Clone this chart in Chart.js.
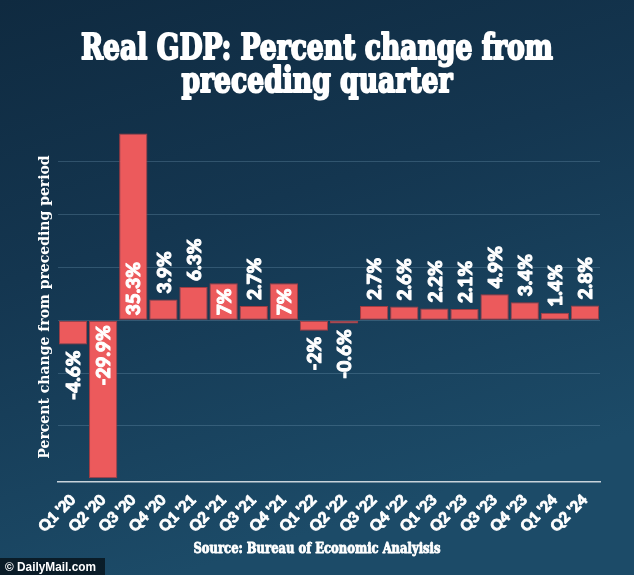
<!DOCTYPE html>
<html>
<head>
<meta charset="utf-8">
<script src="https://cdn.jsdelivr.net/npm/chart.js@4.4.0/dist/chart.umd.min.js"></script>
<style>
html,body{margin:0;padding:0;background:#14344d;}
#c{display:block;}
</style>
</head>
<body>
<canvas id="c" width="634" height="575"></canvas>
<script>
const categories = ["Q1 '20","Q2 '20","Q3 '20","Q4 '20","Q1 '21","Q2 '21","Q3 '21","Q4 '21","Q1 '22","Q2 '22","Q3 '22","Q4 '22","Q1 '23","Q2 '23","Q3 '23","Q4 '23","Q1 '24","Q2 '24"];
const gdpChange = [-4.6,-29.9,35.3,3.9,6.3,7,2.7,7,-2,-0.6,2.7,2.6,2.2,2.1,4.9,3.4,1.4,2.8];
const gridTicks = [-20,-10,0,10,20,30];
const titleLines = ["Real GDP: Percent change from","preceding quarter"];
const yAxisTitle = "Percent change from preceding period";
const sourceText = "Source: Bureau of Economic Analyisis";
const logoText = "\u00A9 DailyMail.com";

const SERIF = "'DejaVu Serif Condensed','DejaVu Serif',serif";
const SANS = "Lato, 'Open Sans', sans-serif";

function drawScaledText(ctx, text, cx, y, sx, stroke) {
  ctx.save();
  ctx.translate(cx, y);
  ctx.scale(sx, 1);
  ctx.textAlign = 'center';
  if (stroke) {
    ctx.lineWidth = stroke;
    ctx.lineJoin = 'round';
    ctx.strokeStyle = ctx.fillStyle;
    ctx.strokeText(text, 0, 0);
  }
  ctx.fillText(text, 0, 0);
  ctx.restore();
}

const backgroundPlugin = {
  id: 'bg',
  beforeDraw(chart) {
    const ctx = chart.ctx;
    const g = ctx.createLinearGradient(0, 0, 180, 575);
    g.addColorStop(0, '#0f2a40');
    g.addColorStop(0.45, '#143650');
    g.addColorStop(1, '#1c4b68');
    ctx.save();
    ctx.fillStyle = g;
    ctx.fillRect(0, 0, chart.width, chart.height);
    ctx.restore();
  }
};

const decorPlugin = {
  id: 'decor',
  afterDraw(chart) {
    const ctx = chart.ctx;
    ctx.save();
    ctx.fillStyle = '#ffffff';
    ctx.textBaseline = 'alphabetic';
    ctx.font = "bold 36px " + SERIF;
    const w1 = ctx.measureText(titleLines[0]).width;
    const s = 472 / w1;
    drawScaledText(ctx, titleLines[0], 317, 59, s, 2);
    drawScaledText(ctx, titleLines[1], 317, 92, s, 2);

    ctx.font = "bold 14px " + SERIF;
    const ws = ctx.measureText(sourceText).width;
    drawScaledText(ctx, sourceText, 317, 553, 247 / ws, 0.8);

    ctx.fillStyle = 'rgba(0,0,0,0.6)';
    ctx.fillRect(0, 558, 105, 17);
    ctx.fillStyle = '#ffffff';
    ctx.font = "bold 12px 'Liberation Sans',Arial,sans-serif";
    const wl = ctx.measureText(logoText).width;
    ctx.save();
    ctx.translate(5, 571);
    ctx.scale(91 / wl, 1);
    ctx.textAlign = 'left';
    ctx.fillText(logoText, 0, 0);
    ctx.restore();
    ctx.restore();
  }
};

const valueLabelPlugin = {
  id: 'valueLabels',
  afterDatasetsDraw(chart) {
    const ctx = chart.ctx;
    const meta = chart.getDatasetMeta(0);
    const y0 = chart.scales.y.getPixelForValue(0);
    ctx.save();
    ctx.font = "900 19px " + SANS;
    ctx.fillStyle = '#ffffff';
    ctx.strokeStyle = '#ffffff';
    ctx.lineWidth = 1;
    ctx.lineJoin = 'round';
    ctx.textBaseline = 'middle';
    meta.data.forEach((bar, i) => {
      const v = gdpChange[i];
      const txt = v + '%';
      const w = ctx.measureText(txt).width;
      const len = Math.abs(bar.y - y0);
      const inside = len > w + 4;
      ctx.save();
      ctx.translate(bar.x + 1, 0);
      ctx.rotate(-Math.PI / 2);
      let ys;
      if (v >= 0) {
        ctx.textAlign = 'left';
        ys = inside ? y0 - 5 : bar.y - 6;
      } else {
        ctx.textAlign = 'right';
        ys = inside ? y0 + 5 : bar.y + 6;
      }
      ctx.strokeText(txt, -ys, 0);
      ctx.fillText(txt, -ys, 0);
      ctx.restore();
    });
    ctx.restore();
  }
};

new Chart(document.getElementById('c'), {
  type: 'bar',
  data: {
    labels: categories,
    datasets: [{
      data: gdpChange,
      backgroundColor: '#ec5a5c',
      borderColor: '#a23c42',
      borderWidth: 1,
      borderSkipped: false,
      barPercentage: 0.94,
      categoryPercentage: 1.0
    }]
  },
  options: {
    responsive: false,
    devicePixelRatio: 1,
    animation: false,
    layout: { padding: { left: 37, right: 34, top: 132, bottom: 0 } },
    plugins: {
      legend: { display: false },
      tooltip: { enabled: false },
      title: { display: false }
    },
    scales: {
      x: {
        grid: { display: false },
        border: { display: true, color: '#c8d3db', width: 1.5 },
        ticks: {
          color: '#ffffff',
          font: { family: SANS, weight: '900', size: 15 },
          textStrokeColor: '#ffffff',
          textStrokeWidth: 0.8,
          minRotation: 45,
          maxRotation: 45,
          autoSkip: false,
          padding: 1
        },
        afterFit(s) { s.height = 93; }
      },
      y: {
        min: -30.6,
        max: 35.6,
        afterBuildTicks(s) { s.ticks = gridTicks.map(v => ({ value: v })); },
        ticks: { display: false },
        grid: { color: 'rgba(120,160,185,0.3)', lineWidth: 1, drawTicks: false },
        border: { display: false },
        title: {
          display: true,
          text: yAxisTitle,
          color: '#ffffff',
          font: { family: "'DejaVu Serif',serif", weight: 'bold', size: 14 },
          padding: 0
        },
        afterFit(s) { s.width = 21; }
      }
    }
  },
  plugins: [backgroundPlugin, valueLabelPlugin, decorPlugin]
});
</script>
</body>
</html>
